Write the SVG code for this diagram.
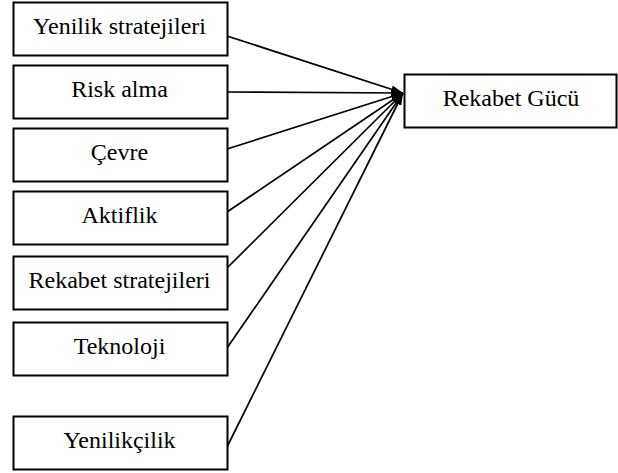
<svg xmlns="http://www.w3.org/2000/svg" width="618" height="473" viewBox="0 0 618 473">
<defs>
<style>
.box{fill:#fff;stroke:#000;stroke-width:2}
.con{stroke:#000;stroke-width:1.7;fill:none;marker-end:url(#ah)}
</style>
<marker id="ah" viewBox="0 0 12 8" refX="12" refY="4" markerWidth="12" markerHeight="8" markerUnits="userSpaceOnUse" orient="auto">
<path d="M0,0 L12,4 L0,8 Z" fill="#000"/>
</marker>
</defs>
<rect width="618" height="473" fill="#fff"/>
<g id="connectors">
<line class="con" x1="227" y1="36" x2="403" y2="93"/>
<line class="con" x1="227" y1="92" x2="403" y2="93"/>
<line class="con" x1="227" y1="149" x2="403" y2="93"/>
<line class="con" x1="227" y1="212" x2="403" y2="93"/>
<line class="con" x1="227" y1="268" x2="403" y2="93"/>
<line class="con" x1="227" y1="348" x2="403" y2="93"/>
<line class="con" x1="227" y1="447" x2="403" y2="93"/>
</g>
<g font-family="Liberation Serif, DejaVu Serif, serif" font-size="24" text-anchor="middle" fill="#000">
<g id="n1"><rect class="box" x="13.5" y="2.5" width="214" height="53"/><text x="119.5" y="33.5">Yenilik stratejileri</text></g>
<g id="n2"><rect class="box" x="13.5" y="65.5" width="214" height="53"/><text x="119.5" y="96.5">Risk alma</text></g>
<g id="n3"><rect class="box" x="13.5" y="128.5" width="214" height="53"/><text x="119.5" y="159.5">Çevre</text></g>
<g id="n4"><rect class="box" x="13.5" y="191.5" width="214" height="53"/><text x="119.5" y="222.5">Aktiflik</text></g>
<g id="n5"><rect class="box" x="13.5" y="256.5" width="214" height="53"/><text x="119.5" y="287.5">Rekabet stratejileri</text></g>
<g id="n6"><rect class="box" x="13.5" y="322.5" width="214" height="53"/><text x="119.5" y="353.5">Teknoloji</text></g>
<g id="n7"><rect class="box" x="13.5" y="416.5" width="214" height="53"/><text x="119.5" y="447.5">Yenilikçilik</text></g>
<g id="target"><rect class="box" x="404.5" y="74.5" width="212" height="53"/><text x="511" y="105.5">Rekabet Gücü</text></g>
</g>
</svg>
